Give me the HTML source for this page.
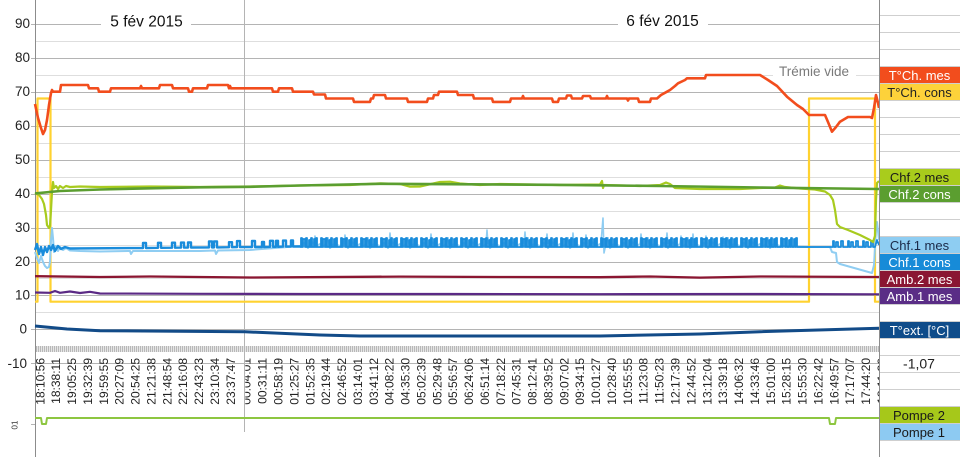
<!DOCTYPE html>
<html><head><meta charset="utf-8">
<style>
html,body{margin:0;padding:0;background:#fff;}
svg{display:block;font-family:"Liberation Sans",Arial,sans-serif;}
</style></head>
<body>
<svg width="960" height="457" viewBox="0 0 960 457" xmlns="http://www.w3.org/2000/svg">
<defs>
<pattern id="hatch" width="2" height="6" patternUnits="userSpaceOnUse">
<rect x="0" y="0" width="2" height="6" fill="#e6e6e6"/>
<rect x="0" y="0" width="1" height="6" fill="#b8b8b8"/>
</pattern>
<clipPath id="c13"><rect x="245.3" y="340" width="30" height="80"/></clipPath>
</defs>
<rect width="960" height="457" fill="#fff"/>

<!-- minor gridlines -->
<g stroke="#dedede" stroke-width="1">
<line x1="35" y1="41.5" x2="879" y2="41.5"/>
<line x1="35" y1="75.5" x2="879" y2="75.5"/>
<line x1="35" y1="109.5" x2="879" y2="109.5"/>
<line x1="35" y1="143.5" x2="879" y2="143.5"/>
<line x1="35" y1="177.5" x2="879" y2="177.5"/>
<line x1="35" y1="211.5" x2="879" y2="211.5"/>
<line x1="35" y1="245.5" x2="879" y2="245.5"/>
<line x1="35" y1="278.5" x2="879" y2="278.5"/>
<line x1="35" y1="312.5" x2="879" y2="312.5"/>
</g>
<!-- major gridlines -->
<g stroke="#b4b4b4" stroke-width="1">
<line x1="31" y1="24.5" x2="879" y2="24.5"/>
<line x1="31" y1="58.5" x2="879" y2="58.5"/>
<line x1="31" y1="92.5" x2="879" y2="92.5"/>
<line x1="31" y1="126.5" x2="879" y2="126.5"/>
<line x1="31" y1="160.5" x2="879" y2="160.5"/>
<line x1="31" y1="194.5" x2="879" y2="194.5"/>
<line x1="31" y1="228.5" x2="879" y2="228.5"/>
<line x1="31" y1="262.5" x2="879" y2="262.5"/>
<line x1="31" y1="295.5" x2="879" y2="295.5"/>
<line x1="31" y1="329.5" x2="879" y2="329.5"/>
<line x1="31" y1="363.5" x2="879" y2="363.5"/>
<line x1="31" y1="424.5" x2="35" y2="424.5"/>
</g>
<line x1="35" y1="346.5" x2="879" y2="346.5" stroke="#dedede"/>
<rect x="35" y="346" width="844" height="6" fill="url(#hatch)"/>

<!-- vertical lines -->
<line x1="244.5" y1="0" x2="244.5" y2="432" stroke="#b4b4b4"/>
<line x1="35.5" y1="0" x2="35.5" y2="457" stroke="#8c8c8c"/>

<!-- header texts with white backgrounds -->
<rect x="101" y="13" width="90" height="16" fill="#fff"/>
<rect x="618" y="11" width="90" height="16" fill="#fff"/>
<rect x="773" y="64" width="83" height="14" fill="#fff"/>
<text x="146.5" y="26.5" font-size="15.5" text-anchor="middle" fill="#111">5 fév 2015</text>
<text x="662.5" y="26" font-size="15.5" text-anchor="middle" fill="#111">6 fév 2015</text>
<text x="814" y="76" font-size="13.5" text-anchor="middle" fill="#7a7a7a">Trémie vide</text>

<!-- y axis labels -->
<g font-size="13.5" fill="#222" text-anchor="end">
<text x="30" y="28">90</text>
<text x="30" y="62">80</text>
<text x="30" y="96">70</text>
<text x="30" y="130">60</text>
<text x="30" y="164">50</text>
<text x="30" y="198">40</text>
<text x="30" y="232">30</text>
<text x="30" y="266">20</text>
<text x="30" y="299.5">10</text>
<text x="27" y="333.5">0</text>
<text x="27" y="368">-10</text>
</g>
<text transform="translate(17.5,425) rotate(-90)" font-size="8" text-anchor="middle" fill="#333">01</text>

<!-- x axis labels -->
<g font-size="12" fill="#222" text-anchor="end">
<text transform="translate(44.3,358) rotate(-90)">18:10:56</text>
<text transform="translate(60.2,358) rotate(-90)">18:38:11</text>
<text transform="translate(76.1,358) rotate(-90)">19:05:25</text>
<text transform="translate(91.9,358) rotate(-90)">19:32:39</text>
<text transform="translate(107.8,358) rotate(-90)">19:59:55</text>
<text transform="translate(123.7,358) rotate(-90)">20:27:09</text>
<text transform="translate(139.6,358) rotate(-90)">20:54:25</text>
<text transform="translate(155.5,358) rotate(-90)">21:21:38</text>
<text transform="translate(171.3,358) rotate(-90)">21:48:54</text>
<text transform="translate(187.2,358) rotate(-90)">22:16:08</text>
<text transform="translate(203.1,358) rotate(-90)">22:43:23</text>
<text transform="translate(219.0,358) rotate(-90)">23:10:34</text>
<text transform="translate(234.9,358) rotate(-90)">23:37:47</text>
<g clip-path="url(#c13)"><text transform="translate(250.7,358) rotate(-90)">00:04:01</text></g>
<text transform="translate(266.6,358) rotate(-90)">00:31:11</text>
<text transform="translate(282.5,358) rotate(-90)">00:58:19</text>
<text transform="translate(298.4,358) rotate(-90)">01:25:27</text>
<text transform="translate(314.3,358) rotate(-90)">01:52:35</text>
<text transform="translate(330.1,358) rotate(-90)">02:19:44</text>
<text transform="translate(346.0,358) rotate(-90)">02:46:52</text>
<text transform="translate(361.9,358) rotate(-90)">03:14:01</text>
<text transform="translate(377.8,358) rotate(-90)">03:41:12</text>
<text transform="translate(393.7,358) rotate(-90)">04:08:22</text>
<text transform="translate(409.5,358) rotate(-90)">04:35:30</text>
<text transform="translate(425.4,358) rotate(-90)">05:02:39</text>
<text transform="translate(441.3,358) rotate(-90)">05:29:48</text>
<text transform="translate(457.2,358) rotate(-90)">05:56:57</text>
<text transform="translate(473.1,358) rotate(-90)">06:24:06</text>
<text transform="translate(488.9,358) rotate(-90)">06:51:14</text>
<text transform="translate(504.8,358) rotate(-90)">07:18:22</text>
<text transform="translate(520.7,358) rotate(-90)">07:45:31</text>
<text transform="translate(536.6,358) rotate(-90)">08:12:41</text>
<text transform="translate(552.5,358) rotate(-90)">08:39:52</text>
<text transform="translate(568.3,358) rotate(-90)">09:07:02</text>
<text transform="translate(584.2,358) rotate(-90)">09:34:15</text>
<text transform="translate(600.1,358) rotate(-90)">10:01:27</text>
<text transform="translate(616.0,358) rotate(-90)">10:28:40</text>
<text transform="translate(631.9,358) rotate(-90)">10:55:55</text>
<text transform="translate(647.7,358) rotate(-90)">11:23:08</text>
<text transform="translate(663.6,358) rotate(-90)">11:50:23</text>
<text transform="translate(679.5,358) rotate(-90)">12:17:39</text>
<text transform="translate(695.4,358) rotate(-90)">12:44:52</text>
<text transform="translate(711.3,358) rotate(-90)">13:12:04</text>
<text transform="translate(727.1,358) rotate(-90)">13:39:18</text>
<text transform="translate(743.0,358) rotate(-90)">14:06:32</text>
<text transform="translate(758.9,358) rotate(-90)">14:33:46</text>
<text transform="translate(774.8,358) rotate(-90)">15:01:00</text>
<text transform="translate(790.7,358) rotate(-90)">15:28:15</text>
<text transform="translate(806.5,358) rotate(-90)">15:55:30</text>
<text transform="translate(822.4,358) rotate(-90)">16:22:42</text>
<text transform="translate(838.3,358) rotate(-90)">16:49:57</text>
<text transform="translate(854.2,358) rotate(-90)">17:17:07</text>
<text transform="translate(870.1,358) rotate(-90)">17:44:20</text>
<text transform="translate(885.9,358) rotate(-90)">18:11:30</text>
</g>

<!-- series -->
<g fill="none" stroke-linejoin="round" stroke-linecap="butt">
<!-- T°Ch. cons -->
<path stroke="#ffd230" stroke-width="2.2" d="M35,301.7 H37.5 V98.5 H50.5 V301.7 H809 V98.5 H875 V301.7 H879"/>
<!-- Amb.1 mes -->
<path stroke="#5b2a85" stroke-width="2.2" d="M35,292.5 L50,292.8 L55,291 L60,292.8 L70,291.5 L80,293 L90,291.8 L100,293.5 L200,293.8 L300,294 L450,294 L600,294.2 L750,294 L879,294.3"/>
<!-- Amb.2 mes -->
<path stroke="#8b1631" stroke-width="2.3" d="M35,276.2 L100,277 L150,276.5 L250,277.5 L400,276.6 L500,277 L600,277.2 L650,276.5 L700,277.6 L760,276.5 L879,277"/>
<!-- T°ext -->
<path stroke="#124b88" stroke-width="3" d="M35,326 L67,329 L100,330.7 L245,331.8 L320,335 L360,336 L600,336 L700,334 L760,331.7 L879,328.3"/>
<!-- Chf.1 mes -->
<path stroke="#8fcdf2" stroke-width="2" d="M35,252 L37,258 L39,263 L41,256 L43,262 L45,266 L47,268 L49,267 L50,262 L51,240 L52,228 L53,238 L54,252 L56,246 L58,251 L60,247 L63,250 L66,248 L70,250.5 L80,251 L100,251.5 L130,251 L131,254 L133,251 L160,251 L200,251 L215,250.5 L216,254 L218,250.5 L250,250 L300,246 l4,-3l4,5l4,-6l4,4l4,-2l4,3l4,-9l2,10l4,-4l6,2 l4,-3l4,5l4,-6l4,4l4,-2l4,3l4,-9l2,10l4,-4l6,2 l4,-3l4,5l4,-6l4,4l4,-2l4,3l4,-9l2,10l4,-4l6,2 l4,-3l4,5l4,-6l4,4l4,-2l4,3l4,-9l2,10l4,-4l6,2 l4,-3l4,5l4,-6l4,4l4,-2l4,3l4,-9l2,10l4,-4l6,2 l4,-3l4,5l4,-6l4,4l4,-2l4,3l4,-9l2,10l4,-4l6,2 l4,-3l4,5l4,-6l4,4l4,-2l4,3l4,-9l2,10l4,-4l6,2 l4,-3l4,5l4,-6l4,4l4,-2l4,3l4,-9l2,10l4,-4l6,2 l4,-3l4,5l4,-6l4,4l4,-2l4,3l4,-9l2,10l4,-4l6,2 l4,-3l4,5l4,-6l4,4l4,-2l4,3l4,-9l2,10l4,-4l6,2 l4,-3l4,5l4,-6l4,4l4,-2l4,3l4,-9l2,10l4,-4l6,2 l4,-3l4,5l4,-6l4,4l4,-2l4,3l4,-9l2,10l4,-4l6,2 L808,247 L830,247 L832,252 L836,253 L837,262 L840,264 L872,273 L874,265 L876,230 L877,222 L879,240"/>
<path stroke="#8fcdf2" stroke-width="1.6" d="M314,244 L315,236 L316,244 M344,244 L345,235 L346,244 M389,244 L390,233 L391,244 M430,244 L431,234 L432,244 M486,244 L487,230 L488,244 M524,244 L525,232 L526,244 M546,244 L547,234 L548,244 M572,244 L573,233 L574,244 M585,244 L586,235 L587,244 M601,243 L603,218 L604,253 L606,244 M640,244 L641,234 L642,244 M666,244 L667,233 L668,244 M680,244 L681,236 L682,244 M692,244 L693,234 L694,244 M705,244 L706,236 L707,244 M722,244 L723,237 L724,244"/>
<!-- Chf.1 cons -->
<path stroke="#1a8cdb" stroke-width="2.4" d="M35,250 L37,244 L39,254 L41,247 L43,255 L45,247 L47,252 L49,246 L51,250 L53,245 L55,251 L58,246 L61,249 L65,247 L70,248.5 L143,248 v-5 h3 v5 L158,247.8 v-5 h3 v5 L172,247.7 v-5 h3 v5 L181,247.6 v-5 h3 v5 L188,247.5 v-5 h3 v5 L209,247.4 v-6 h3 v6 h2 v-6 h3 v6 L229,247.2 v-5 h3 v5 L237,247.1 v-6 h3 v6 L252,247 v-6 h3 v6 L262,247 v-5 h2 v5 L270,246.8 v-6 h3 v6 h3 v-6 h2 v6 L283,246.6 v-6 h3 v6 L291,246.5 v-6 h2 v6 L300,246.5"/>
<path stroke="#1a8cdb" stroke-width="1.8" d="M300,247 h1v-9h1v9h1v-8h2v8h1v-9h1v9h2v-7h1v7h1v-9h1v9h2v-8h1v8h1v-9h1v9h3 h1v-9h1v9h1v-8h2v8h1v-9h1v9h2v-7h1v7h1v-9h1v9h2v-8h1v8h1v-9h1v9h3 h1v-9h1v9h1v-8h2v8h1v-9h1v9h2v-7h1v7h1v-9h1v9h2v-8h1v8h1v-9h1v9h3 h1v-9h1v9h1v-8h2v8h1v-9h1v9h2v-7h1v7h1v-9h1v9h2v-8h1v8h1v-9h1v9h3 h1v-9h1v9h1v-8h2v8h1v-9h1v9h2v-7h1v7h1v-9h1v9h2v-8h1v8h1v-9h1v9h3 h1v-9h1v9h1v-8h2v8h1v-9h1v9h2v-7h1v7h1v-9h1v9h2v-8h1v8h1v-9h1v9h3 h1v-9h1v9h1v-8h2v8h1v-9h1v9h2v-7h1v7h1v-9h1v9h2v-8h1v8h1v-9h1v9h3 h1v-9h1v9h1v-8h2v8h1v-9h1v9h2v-7h1v7h1v-9h1v9h2v-8h1v8h1v-9h1v9h3 h1v-9h1v9h1v-8h2v8h1v-9h1v9h2v-7h1v7h1v-9h1v9h2v-8h1v8h1v-9h1v9h3 h1v-9h1v9h1v-8h2v8h1v-9h1v9h2v-7h1v7h1v-9h1v9h2v-8h1v8h1v-9h1v9h3 h1v-9h1v9h1v-8h2v8h1v-9h1v9h2v-7h1v7h1v-9h1v9h2v-8h1v8h1v-9h1v9h3 h1v-9h1v9h1v-8h2v8h1v-9h1v9h2v-7h1v7h1v-9h1v9h2v-8h1v8h1v-9h1v9h3 h1v-9h1v9h1v-8h2v8h1v-9h1v9h2v-7h1v7h1v-9h1v9h2v-8h1v8h1v-9h1v9h3 h1v-9h1v9h1v-8h2v8h1v-9h1v9h2v-7h1v7h1v-9h1v9h2v-8h1v8h1v-9h1v9h3 h1v-9h1v9h1v-8h2v8h1v-9h1v9h2v-7h1v7h1v-9h1v9h2v-8h1v8h1v-9h1v9h3 h1v-9h1v9h1v-8h2v8h1v-9h1v9h2v-7h1v7h1v-9h1v9h2v-8h1v8h1v-9h1v9h3 h1v-9h1v9h1v-8h2v8h1v-9h1v9h2v-7h1v7h1v-9h1v9h2v-8h1v8h1v-9h1v9h3 h1v-9h1v9h1v-8h2v8h1v-9h1v9h2v-7h1v7h1v-9h1v9h2v-8h1v8h1v-9h1v9h3 h1v-9h1v9h1v-8h2v8h1v-9h1v9h2v-7h1v7h1v-9h1v9h2v-8h1v8h1v-9h1v9h3 h1v-9h1v9h1v-8h2v8h1v-9h1v9h2v-7h1v7h1v-9h1v9h2v-8h1v8h1v-9h1v9h3 h1v-9h1v9h1v-8h2v8h1v-9h1v9h2v-7h1v7h1v-9h1v9h2v-8h1v8h1v-9h1v9h3 h1v-9h1v9h1v-8h2v8h1v-9h1v9h2v-7h1v7h1v-9h1v9h2v-8h1v8h1v-9h1v9h3 h1v-9h1v9h1v-8h2v8h1v-9h1v9h2v-7h1v7h1v-9h1v9h2v-8h1v8h1v-9h1v9h3 h1v-9h1v9h1v-8h2v8h1v-9h1v9h2v-7h1v7h1v-9h1v9h2v-8h1v8h1v-9h1v9h3 h1v-9h1v9h1v-8h2v8h1v-9h1v9h2v-7h1v7h1v-9h1v9h2v-8h1v8h1v-9h1v9h3 h9 H830 h3v-6h1v6h2v-5h2v5h3v-6h2v6h2 h3v-6h1v6h2v-5h2v5h3v-6h2v6h2 h3v-6h1v6h2v-5h2v5h3v-6h2v6h2 L877,240 L879,245"/>
<!-- Chf.2 mes -->
<path stroke="#a8cb1e" stroke-width="2.2" d="M35,193 L39,195 L42,199 L44,204 L46,215 L47,225 L49,228 L50,226 L51,210 L52,192 L53,182 L54,188 L56,186 L58,189 L60,186 L63,188 L66,186 L70,187 L80,186.5 L100,187 L150,186.5 L200,187 L250,186.5 L300,185.5 L350,185 L380,183.3 L400,184 L410,186.7 L420,186.5 L440,182 L450,181.7 L460,183.5 L480,185 L500,184 L530,184.5 L560,185 L600,184.5 L602,181 L603,188 L604,185 L640,186 L660,185 L666,182.5 L670,184 L675,188 L700,189 L740,189 L760,188 L775,187.5 L780,185.5 L785,187 L800,188.5 L815,189.5 L825,191.5 L830,195 L833,200 L835,210 L837,224 L840,227 L848,230 L860,235 L870,240 L873,242 L875,236 L876,200 L877,183 L879,181"/>
<!-- Chf.2 cons -->
<path stroke="#5b9e30" stroke-width="2.6" d="M35,193.4 L60,191 L100,189.5 L150,188.3 L200,187.3 L250,186.8 L300,185.5 L380,183.8 L450,184.2 L550,184.8 L660,186 L760,187.5 L879,189"/>
<!-- T°Ch. mes -->
<path stroke="#f24d1d" stroke-width="2.6" d="M35,104 L38,118 L41,128 L43,134 L45,130 L47,120 L49,105 L51,93 L52,90 L53,91.7 L60,91.7 L61,85 L88,85 L89,88.3 L98,88.3 L99,91.7 L110,91.7 L111,88.3 L140,88.3 L141,86 L142,88.3 L159,88.3 L160,85 L172,85 L173,88.3 L188,88.3 L189,91.7 L192,91.7 L193,88.3 L207,88.3 L208,85 L228,85 L229,88.3 L230,86 L231,88.3 L272,88.3 L273,91.7 L278,91.7 L279,88.3 L292,88.3 L293,91.7 L313,91.7 L314,94.5 L325,94.5 L326,98.5 L353,98.5 L354,101.9 L370,101.9 L371,98.5 L373,98.5 L374,95 L385,95 L386,98.5 L407,98.5 L408,101.9 L427,101.9 L428,98.5 L433,98.5 L434,95 L438,95 L439,91.7 L457,91.7 L458,95 L473,95 L474,98.5 L492,98.5 L493,101.9 L510,101.9 L511,98.5 L522,98.5 L523,96 L524,98.5 L552,98.5 L553,101.9 L558,101.9 L559,98.5 L566,98.5 L567,95.5 L571,95.5 L572,98.5 L582,98.5 L583,96 L590,96 L591,98.5 L606,98.5 L607,96 L608,98.5 L627,98.5 L628,100.5 L629,98.5 L638,98.5 L639,101.9 L650,101.9 L651,98.5 L657,98.5 L661,95 L667,91.7 L670,90 L675,86 L678,83.3 L685,80 L687,78.3 L705,78.3 L706,75 L760,75 L768,80 L777,86 L787,96.7 L797,105 L803,109 L809,115 L825,115 L828,122 L832,131.7 L836,127 L840,121.7 L848,117 L870,117 L872,118 L874,108 L876,95 L878,103 L879,108"/>
<!-- Pompe 2 -->
<path stroke="#8dc640" stroke-width="2" d="M35,418 H41 L42,424 H46 L47,418 H829 L830,424 H835 L836,418 H879"/>
</g>

<!-- right panel -->
<rect x="880" y="0" width="80" height="457" fill="#fff"/>
<g stroke="#cfcfcf" stroke-width="1">
<line x1="880" y1="15.5" x2="960" y2="15.5"/>
<line x1="880" y1="32.5" x2="960" y2="32.5"/>
<line x1="880" y1="49.5" x2="960" y2="49.5"/>
<line x1="880" y1="66.5" x2="960" y2="66.5"/>
<line x1="880" y1="83.5" x2="960" y2="83.5"/>
<line x1="880" y1="100.5" x2="960" y2="100.5"/>
<line x1="880" y1="117.5" x2="960" y2="117.5"/>
<line x1="880" y1="134.5" x2="960" y2="134.5"/>
<line x1="880" y1="151.5" x2="960" y2="151.5"/>
<line x1="880" y1="168.5" x2="960" y2="168.5"/>
<line x1="880" y1="185.5" x2="960" y2="185.5"/>
<line x1="880" y1="202.5" x2="960" y2="202.5"/>
<line x1="880" y1="219.5" x2="960" y2="219.5"/>
<line x1="880" y1="236.5" x2="960" y2="236.5"/>
<line x1="880" y1="253.5" x2="960" y2="253.5"/>
<line x1="880" y1="270.5" x2="960" y2="270.5"/>
<line x1="880" y1="287.5" x2="960" y2="287.5"/>
<line x1="880" y1="304.5" x2="960" y2="304.5"/>
<line x1="880" y1="321.5" x2="960" y2="321.5"/>
<line x1="880" y1="338.5" x2="960" y2="338.5"/>
<line x1="880" y1="355.5" x2="960" y2="355.5"/>
<line x1="880" y1="372.5" x2="960" y2="372.5"/>
<line x1="880" y1="389.5" x2="960" y2="389.5"/>
<line x1="880" y1="406.5" x2="960" y2="406.5"/>
<line x1="880" y1="423.5" x2="960" y2="423.5"/>
<line x1="880" y1="440.5" x2="960" y2="440.5"/>
</g>
<line x1="879.5" y1="0" x2="879.5" y2="457" stroke="#8c8c8c"/>

<g font-size="13" text-anchor="middle">
<rect x="880" y="67" width="80" height="16" fill="#f24d1d"/>
<text x="919.5" y="80" fill="#fff">T°Ch. mes</text>
<rect x="880" y="84" width="80" height="16" fill="#fdd23a"/>
<text x="919.5" y="97" fill="#222">T°Ch. cons</text>
<rect x="880" y="169" width="80" height="16" fill="#a9cc1c"/>
<text x="919.5" y="182" fill="#1a1a1a">Chf.2 mes</text>
<rect x="880" y="186" width="80" height="16" fill="#5b9e30"/>
<text x="919.5" y="199" fill="#fff">Chf.2 cons</text>
<rect x="880" y="237" width="80" height="16" fill="#8ecdf2"/>
<text x="919.5" y="250" fill="#1b2a48">Chf.1 mes</text>
<rect x="880" y="254" width="80" height="16" fill="#178bd8"/>
<text x="919.5" y="267" fill="#fff">Chf.1 cons</text>
<rect x="880" y="271" width="80" height="16" fill="#8a1632"/>
<text x="919.5" y="284" fill="#fff">Amb.2 mes</text>
<rect x="880" y="288" width="80" height="16" fill="#5a2d86"/>
<text x="919.5" y="301" fill="#fff">Amb.1 mes</text>
<rect x="880" y="322" width="80" height="16" fill="#0f4c8a"/>
<text x="919.5" y="335" fill="#fff">T°ext. [°C]</text>
<text x="919" y="368.5" font-size="14" fill="#222">-1,07</text>
<rect x="880" y="407" width="80" height="16" fill="#a6c81a"/>
<text x="919" y="420" fill="#1a1a1a">Pompe 2</text>
<rect x="880" y="424" width="80" height="16" fill="#8dcaf2"/>
<text x="919" y="437" fill="#1a1a1a">Pompe 1</text>
</g>
</svg>
</body></html>
